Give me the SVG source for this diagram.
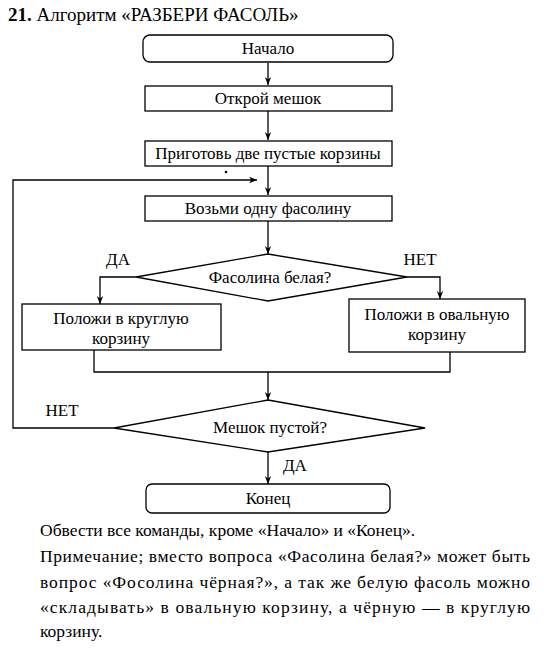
<svg xmlns="http://www.w3.org/2000/svg" width="544" height="656" viewBox="0 0 544 656">
<defs>
<marker id="ah" viewBox="0 0 10 10" refX="10" refY="5" markerWidth="8" markerHeight="8" markerUnits="userSpaceOnUse" orient="auto">
<path d="M0,1 L10,5 L0,9 L3,5 Z" fill="#000"/>
</marker>
<style>
.t{font-family:"Liberation Serif","Times New Roman",serif;font-size:17px;fill:#000}
.c{text-anchor:middle}
.s{fill:#fff;stroke:#000;stroke-width:1.3}
.l{fill:none;stroke:#000;stroke-width:1.3}
.p{font-family:"Liberation Serif","Times New Roman",serif;font-size:17.5px;fill:#000}
</style>
</defs>
<rect width="544" height="656" fill="#fff"/>
<text class="p" x="8" y="21" style="font-size:19px"><tspan font-weight="bold">21.</tspan> Алгоритм «РАЗБЕРИ ФАСОЛЬ»</text>
<g id="connectors">
<path class="l" d="M268,63 V85" marker-end="url(#ah)"/>
<path class="l" d="M268,111 V140" marker-end="url(#ah)"/>
<path class="l" d="M268,166 V195" marker-end="url(#ah)"/>
<path class="l" d="M268,221 V254" marker-end="url(#ah)"/>
<path class="l" d="M136,277 H100 V304" marker-end="url(#ah)"/>
<path class="l" d="M407,277 H440 V299" marker-end="url(#ah)"/>
<path class="l" d="M94,350 V372 H450 V352"/>
<path class="l" d="M268,372 V400" marker-end="url(#ah)"/>
<path class="l" d="M114,428 H13 V180 H257" marker-end="url(#ah)"/>
<path class="l" d="M268,452 V484" marker-end="url(#ah)"/>
<circle cx="226" cy="172" r="1.3" fill="#000"/>
<text class="t" x="118" y="265" text-anchor="middle">ДА</text>
<text class="t" x="420" y="265" text-anchor="middle">НЕТ</text>
<text class="t" x="62" y="416" text-anchor="middle">НЕТ</text>
<text class="t" x="283" y="471">ДА</text>
</g>
<g id="start">
<rect class="s" x="143" y="35" width="250" height="27" rx="7"/>
<text class="t c" x="268" y="54">Начало</text>
</g>
<g id="open">
<rect class="s" x="145" y="86" width="247" height="25"/>
<text class="t c" x="268" y="104">Открой мешок</text>
</g>
<g id="prepare">
<rect class="s" x="145" y="141" width="247" height="25"/>
<text class="t c" x="268" y="159">Приготовь две пустые корзины</text>
</g>
<g id="take">
<rect class="s" x="145" y="196" width="247" height="25"/>
<text class="t c" x="268" y="214">Возьми одну фасолину</text>
</g>
<g id="white">
<polygon class="s" points="268,254 407,277 268,301 136,277"/>
<text class="t c" x="270" y="283">Фасолина белая?</text>
</g>
<g id="round">
<rect class="s" x="22" y="304" width="199" height="46"/>
<text class="t c" x="121" y="324">Положи в круглую</text>
<text class="t c" x="121" y="344">корзину</text>
</g>
<g id="oval">
<rect class="s" x="349" y="299" width="176" height="53"/>
<text class="t c" x="437" y="320">Положи в овальную</text>
<text class="t c" x="437" y="340">корзину</text>
</g>
<g id="empty">
<polygon class="s" points="268,400 425,428 268,452 114,428"/>
<text class="t c" x="270" y="433">Мешок пустой?</text>
</g>
<g id="end">
<rect class="s" x="146" y="484" width="244" height="29" rx="6"/>
<text class="t c" x="268" y="504">Конец</text>
</g>
<g id="note">
<text class="p" x="40" y="536">Обвести все команды, кроме «Начало» и «Конец».</text>
<text class="p" x="40" y="562" textLength="490" lengthAdjust="spacing">Примечание; вместо вопроса «Фасолина белая?» может быть</text>
<text class="p" x="40" y="588" textLength="490" lengthAdjust="spacing">вопрос «Фосолина чёрная?», а так же белую фасоль можно</text>
<text class="p" x="40" y="613" textLength="490" lengthAdjust="spacing">«складывать» в овальную корзину, а чёрную — в круглую</text>
<text class="p" x="40" y="637">корзину.</text>
</g>
</svg>
